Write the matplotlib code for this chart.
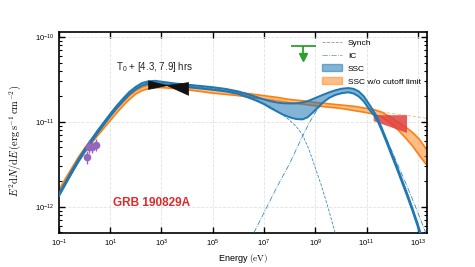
import numpy as np
import matplotlib
matplotlib.use("Agg")
import matplotlib.pyplot as plt
from matplotlib.ticker import FixedLocator, NullLocator, FuncFormatter, LogLocator, NullFormatter

plt.rcParams['font.family'] = ['Liberation Sans', 'DejaVu Sans']
plt.rcParams['mathtext.fontset'] = 'custom'
plt.rcParams['mathtext.rm'] = 'Liberation Sans'
plt.rcParams['mathtext.it'] = 'Liberation Sans:italic'
plt.rcParams['mathtext.bf'] = 'Liberation Sans:bold'

# ---------------- data (log10 E [eV], log10 E^2dN/dE [erg s^-1 cm^-2]) ----------------
ssc_logE = [-1.0, -0.75, -0.5, -0.25, 0.0, 0.25, 0.5, 0.75, 1.0, 1.25, 1.5, 1.75, 2.0, 2.25,
            2.5, 2.75, 3.0, 3.5, 4.0, 4.5, 5.0, 5.5, 6.0, 6.5, 6.75, 7.0, 7.25, 7.5, 7.75,
            8.0, 8.25, 8.5, 8.7, 8.9, 9.1, 9.3, 9.55, 9.8, 10.05, 10.3, 10.5, 10.7, 10.9,
            11.1, 11.25, 11.4, 11.6, 11.8, 12.0, 12.2, 12.4, 12.6, 12.8, 13.0, 13.2]
ssc_hi = [-11.845, -11.71, -11.575, -11.445, -11.325, -11.215, -11.105, -11.005, -10.905,
          -10.81, -10.725, -10.645, -10.585, -10.54, -10.52, -10.515, -10.525, -10.545,
          -10.56, -10.575, -10.59, -10.61, -10.64, -10.685, -10.71, -10.735, -10.755,
          -10.77, -10.78, -10.782, -10.78, -10.77, -10.755, -10.73, -10.705, -10.68,
          -10.65, -10.625, -10.607, -10.60, -10.61, -10.64, -10.70, -10.79, -10.86,
          -10.935, -11.075, -11.225, -11.38, -11.535, -11.695, -11.855, -12.025, -12.205,
          -12.40]
ssc_lo = [-11.875, -11.74, -11.605, -11.475, -11.355, -11.245, -11.135, -11.035, -10.935,
          -10.84, -10.755, -10.675, -10.615, -10.57, -10.55, -10.545, -10.555, -10.575,
          -10.59, -10.605, -10.62, -10.64, -10.67, -10.725, -10.755, -10.79, -10.835,
          -10.875, -10.915, -10.945, -10.965, -10.97, -10.945, -10.89, -10.83, -10.77,
          -10.715, -10.68, -10.66, -10.65, -10.665, -10.70, -10.76, -10.85, -10.905,
          -10.965, -11.105, -11.255, -11.41, -11.565, -11.725, -11.885, -12.055, -12.235,
          -12.43]

synch_logE = [-1.0, -0.5, 0.0, 0.5, 1.0, 1.5, 2.0, 2.5, 3.0, 3.5, 4.0, 4.5, 5.0, 5.5, 6.0,
              6.5, 7.0, 7.25, 7.5, 7.75, 8.0, 8.25, 8.5, 8.75, 9.0, 9.25, 9.5, 9.75, 9.9]
synch_F = [-11.86, -11.59, -11.34, -11.12, -10.92, -10.74, -10.60, -10.535, -10.54,
           -10.56, -10.575, -10.59, -10.605, -10.625, -10.655, -10.705, -10.78, -10.82,
           -10.87, -10.92, -10.98, -11.05, -11.15, -11.32, -11.54, -11.76, -12.01, -12.28,
           -12.45]

ic_logE = [6.45, 6.75, 7.0, 7.25, 7.5, 7.75, 8.0, 8.25, 8.5, 8.75, 9.0, 9.25, 9.5, 9.75,
           10.0, 10.3, 10.5, 10.7, 10.9, 11.1, 11.4, 11.7, 12.0, 12.3, 12.6, 12.9, 13.2,
           13.45]
ic_F = [-12.40, -12.22, -12.07, -11.92, -11.77, -11.63, -11.49, -11.33, -11.17, -11.02,
        -10.89, -10.79, -10.72, -10.68, -10.66, -10.655, -10.665, -10.70, -10.76, -10.85,
        -10.97, -11.15, -11.35, -11.56, -11.77, -11.99, -12.22, -12.42]

nocut_logE = [-1.0, -0.75, -0.5, -0.25, 0.0, 0.25, 0.5, 0.75, 1.0, 1.25, 1.5, 1.75, 2.0,
              2.25, 2.5, 2.75, 3.0, 3.5, 4.0, 4.5, 5.0, 5.5, 6.0, 6.5, 7.0, 7.5, 8.0, 8.5,
              9.0, 9.5, 10.0, 10.5, 11.0, 11.3, 11.6, 11.9, 12.2, 12.5, 12.8, 13.05, 13.4]
nocut_hi = [-11.80, -11.67, -11.545, -11.42, -11.31, -11.21, -11.115, -11.025, -10.935,
            -10.845, -10.765, -10.69, -10.63, -10.59, -10.567, -10.557, -10.555, -10.565,
            -10.58, -10.60, -10.62, -10.635, -10.65, -10.67, -10.69, -10.71, -10.735,
            -10.75, -10.77, -10.785, -10.80, -10.815, -10.84, -10.855, -10.885, -10.935,
            -10.995, -11.055, -11.125, -11.20, -11.35]
nocut_lo = [-11.86, -11.73, -11.60, -11.475, -11.36, -11.26, -11.165, -11.075, -10.985,
            -10.895, -10.81, -10.735, -10.67, -10.63, -10.607, -10.597, -10.595, -10.605,
            -10.62, -10.64, -10.66, -10.675, -10.69, -10.71, -10.73, -10.75, -10.775,
            -10.79, -10.81, -10.825, -10.84, -10.865, -10.89, -10.91, -10.945, -11.005,
            -11.085, -11.18, -11.285, -11.39, -11.53]

nocut_ext_logE = [11.4, 12.0, 12.5, 13.0, 13.4]
nocut_ext_F = [-10.875, -10.90, -10.92, -10.94, -10.96]

# XRT bowtie
xrt_logE = [2.48, 3.2, 4.04]
xrt_hi = [-10.51, -10.565, -10.53]
xrt_lo = [-10.61, -10.565, -10.68]

# H.E.S.S. region
hess_logE = [11.28, 12.58]
hess_hi = [-10.92, -10.92]
hess_lo = [-10.99, -11.13]

# UVOT points
uvot_logE = [0.11, 0.18, 0.31, 0.44]
uvot_F = [-11.41, -11.29, -11.29, -11.27]
uvot_Flo = [-11.49, -11.37, -11.36, -11.34]
uvot_Fhi = [-11.34, -11.21, -11.21, -11.20]

# Fermi-LAT upper limit
ul_logE = 8.52
ul_Emin, ul_Emax = 8.07, 9.04
ul_F = -10.11
ul_Ftip = -10.27

# ---------------- plot ----------------
def p(a):
    return 10.0 ** np.asarray(a, dtype=float)

blue = '#1f77b4'
orange = '#ff7f0e'

fig = plt.figure(figsize=(4.75, 2.67), dpi=100)
ax = fig.add_axes([0.124, 0.127, 0.775, 0.753])
ax.set_xscale('log')
ax.set_yscale('log')

ax.fill_between(p(nocut_logE), p(nocut_lo), p(nocut_hi), facecolor=orange, alpha=0.5,
                edgecolor='none', zorder=2)
ax.plot(p(nocut_logE), p(nocut_lo), color=orange, lw=1.2, zorder=2.1, solid_joinstyle='round')
ax.plot(p(nocut_logE), p(nocut_hi), color=orange, lw=1.2, zorder=2.1, solid_joinstyle='round')
ax.plot(p(nocut_ext_logE), p(nocut_ext_F), color=orange, lw=0.7, ls='--', alpha=0.5, zorder=2)

ax.fill_between(p(ssc_logE), p(ssc_lo), p(ssc_hi), facecolor=blue, alpha=0.55,
                edgecolor='none', zorder=3)
ax.plot(p(ssc_logE), p(ssc_lo), color=blue, lw=1.4, zorder=3.1, solid_joinstyle='round')
ax.plot(p(ssc_logE), p(ssc_hi), color=blue, lw=1.4, zorder=3.1, solid_joinstyle='round')

ax.plot(p(synch_logE), p(synch_F), color=blue, lw=0.6, ls='--', alpha=0.85, zorder=3.2)
ax.plot(p(ic_logE), p(ic_F), color=blue, lw=0.6, ls='-.', alpha=0.85, zorder=3.2)

# legend proxies
ax.plot([], [], color='#8a9aa8', lw=0.6, ls='--', label='Synch')
ax.plot([], [], color='#8a9aa8', lw=0.6, ls='-.', label='IC')
ax.fill_between([], [], [], facecolor=blue, alpha=0.55, edgecolor=blue, lw=1.0, label='SSC')
ax.fill_between([], [], [], facecolor=orange, alpha=0.5, edgecolor=orange, lw=1.0,
                label='SSC w/o cutoff limit')

ax.fill_between(p(xrt_logE), p(xrt_lo), p(xrt_hi), facecolor='#111111', edgecolor='#111111',
                lw=0.5, zorder=5)
ax.fill_between(p(hess_logE), p(hess_lo), p(hess_hi), facecolor='#e04040', alpha=0.85,
                edgecolor='none', zorder=2.5)

uF = p(uvot_F)
ax.errorbar(p(uvot_logE), uF, yerr=[uF - p(uvot_Flo), p(uvot_Fhi) - uF], fmt='o',
            color='#9467bd', ms=4.5, elinewidth=1.0, capsize=0, zorder=6)

ulx = 10.0 ** ul_logE
uly = 10.0 ** ul_F
green = '#2ca02c'
ax.hlines(uly, 10.0 ** ul_Emin, 10.0 ** ul_Emax, color=green, lw=1.3, zorder=6)
ax.vlines(ulx, 10.0 ** ul_Ftip, uly, color=green, lw=1.3, zorder=6)
ax.plot([ulx], [10.0 ** (ul_Ftip + 0.035)], marker='v', ms=5.5, color=green, mec=green,
        zorder=6)

ax.text(10 ** 2.74, 10 ** -10.35, r'T$_0$ + [4.3, 7.9] hrs', fontsize=7, ha='center',
        va='center', color='#222222')
ax.text(10 ** 2.63, 10 ** -11.96, 'GRB 190829A', fontsize=8.5, fontweight='bold',
        color='#dd2a2a', ha='center', va='center')

ax.set_xlim(1e-1, 10 ** 13.36)
ax.set_ylim(10 ** -12.31, 10 ** -9.94)

ax.xaxis.set_major_locator(FixedLocator([10.0 ** k for k in range(-1, 14, 2)]))
ax.xaxis.set_minor_locator(NullLocator())
ax.xaxis.set_major_formatter(FuncFormatter(lambda v, pos: r'$\mathdefault{10^{%d}}$' % round(np.log10(v))))
ax.yaxis.set_major_locator(FixedLocator([1e-12, 1e-11, 1e-10]))
ax.yaxis.set_minor_locator(LogLocator(base=10, subs=np.arange(2, 10)))
ax.yaxis.set_minor_formatter(NullFormatter())
ax.yaxis.set_major_formatter(FuncFormatter(lambda v, pos: r'$\mathdefault{10^{%d}}$' % round(np.log10(v))))

ax.tick_params(which='both', direction='in', top=True, right=True, labelsize=5.5,
               colors='black', width=1.0)
ax.tick_params(which='major', length=4.2)
ax.tick_params(which='minor', length=2.5, width=0.8)
for s in ax.spines.values():
    s.set_linewidth(1.2)

ax.grid(True, which='major', ls='--', color='#e2e2e2', lw=0.6, zorder=0)
ax.set_axisbelow(True)

ax.set_xlabel(r'Energy $(\mathrm{eV})$', fontsize=6.5, math_fontfamily='cm')
ax.xaxis.set_label_coords(0.5, -0.095)
ax.set_ylabel(r'$E^2\mathrm{d}N/\mathrm{d}E\,(\mathrm{erg\,s^{-1}\,cm^{-2}})$', fontsize=7.5,
              math_fontfamily='cm')
ax.yaxis.set_label_coords(-0.098, 0.46)

ax.legend(loc='upper left', bbox_to_anchor=(0.715, 0.968), frameon=False, fontsize=6,
          borderpad=0, borderaxespad=0, handlelength=2.4, handletextpad=0.7,
          labelspacing=0.55, handleheight=0.9)

fig.savefig('out.png', dpi=100)
